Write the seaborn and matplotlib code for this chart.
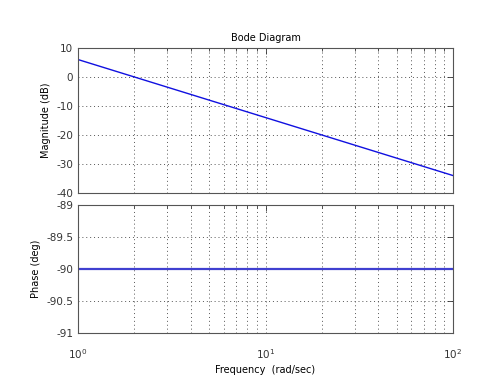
import matplotlib
matplotlib.use("Agg")
import matplotlib.pyplot as plt
import seaborn as sns
import pandas as pd
import numpy as np
from matplotlib.ticker import LogLocator, NullFormatter, FixedLocator

sns.set_theme(style="white")
plt.rcParams['font.family'] = ['DejaVu Sans']

freq = [1, 100]
magnitude_db = [6.02, -33.98]
phase_deg = [-90, -90]
mag_ticks = [-40, -30, -20, -10, 0, 10]
phase_ticks = [-91, -90.5, -90, -89.5, -89]
phase_ticklabels = ["-91", "-90.5", "-90", "-89.5", "-89"]

df = pd.DataFrame({"freq": freq, "mag": magnitude_db, "phase": phase_deg})

fig = plt.figure(figsize=(5, 3.75), dpi=100)
ax1 = fig.add_axes([0.156, 0.4853, 0.75, 0.3867])
ax2 = fig.add_axes([0.156, 0.112, 0.75, 0.3413])

line_color = "#1010e0"
sns.lineplot(data=df, x="freq", y="mag", ax=ax1, color=line_color, linewidth=1.0)
sns.lineplot(data=df, x="freq", y="phase", ax=ax2, color="#4040d0", linewidth=1.6)

fs = 7.5
for ax in (ax1, ax2):
    ax.set_xscale("log")
    ax.set_xlim(1, 100)
    ax.xaxis.set_major_locator(LogLocator(base=10, numticks=10))
    ax.xaxis.set_minor_locator(LogLocator(base=10, subs=np.arange(2, 10), numticks=20))
    ax.xaxis.set_minor_formatter(NullFormatter())
    ax.grid(True, which="major", axis="both", linestyle=(0, (1, 3)), color="#555555", linewidth=0.7)
    ax.grid(True, which="minor", axis="x", linestyle=(0, (1, 3)), color="#555555", linewidth=0.7)
    ax.tick_params(which="both", direction="in", top=True, right=True, labelsize=fs,
                   colors="#333333", width=0.6)
    ax.tick_params(which="major", length=4)
    ax.tick_params(which="minor", length=2)
    for s in ax.spines.values():
        s.set_color("#555555")
        s.set_linewidth(0.8)
    ax.set_facecolor("white")

ax1.set_ylim(-40, 10)
ax1.yaxis.set_major_locator(FixedLocator(mag_ticks))
ax1.set_yticklabels([str(t) for t in mag_ticks])
ax1.tick_params(labelbottom=False)
ax1.set_xlabel("")
ax1.set_ylabel("Magnitude (dB)", fontsize=7, color="black")
ax1.set_title("Bode Diagram", fontsize=7, color="black", pad=5)

ax2.set_ylim(-91, -89)
ax2.yaxis.set_major_locator(FixedLocator(phase_ticks))
ax2.set_yticklabels(phase_ticklabels)
ax2.set_ylabel("Phase (deg)", fontsize=7, color="black")
ax2.tick_params(axis="x", pad=10)
ax2.set_xlabel("Frequency  (rad/sec)", fontsize=7, color="black", labelpad=3)

fig.savefig("out.png", dpi=100, facecolor="white")
